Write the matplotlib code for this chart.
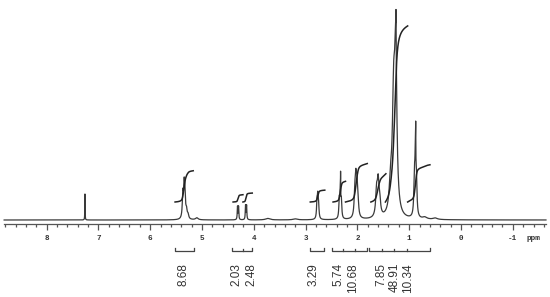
import numpy as np
import matplotlib
matplotlib.use("Agg")
import matplotlib.pyplot as plt

# peak list: shift (ppm), height, half width (ppm)
peak_shifts = [7.26,
               5.37, 5.345, 5.33, 5.30, 5.27, 5.10,
               4.315, 4.295, 4.16, 4.14,
               3.73, 3.20,
               2.78, 2.765, 2.75,
               2.35, 2.33, 2.31, 2.325,
               2.05, 2.03, 2.01, 1.99,
               1.63, 1.60, 1.57,
               1.36, 1.30, 1.26, 1.255,
               0.90, 0.88, 0.86, 0.875,
               0.70, 0.50]
peak_heights = [26,
                24, 30, 19, 8, 4, 2,
                13, 13, 14, 14,
                1.5, 1,
                16, 20, 12,
                18, 26, 16, 20,
                22, 32, 26, 14,
                24, 32, 14,
                25, 110, 152, 28,
                35, 60, 30, 28,
                2, 1.5]
peak_widths = [0.003,
               0.012, 0.012, 0.012, 0.015, 0.015, 0.03,
               0.006, 0.006, 0.006, 0.006,
               0.05, 0.05,
               0.01, 0.01, 0.01,
               0.01, 0.01, 0.01, 0.002,
               0.015, 0.015, 0.015, 0.015,
               0.02, 0.02, 0.02,
               0.03, 0.03, 0.025, 0.002,
               0.012, 0.012, 0.012, 0.002,
               0.05, 0.05]

# integrals: region (ppm from, ppm to) and value
int_from = [5.52, 4.40, 4.21, 2.91, 2.47, 2.23, 1.74, 1.46, 1.03]
int_to = [5.17, 4.21, 4.03, 2.63, 2.23, 1.81, 1.45, 1.03, 0.60]
int_values = ["8.68", "2.03", "2.48", "3.29", "5.74", "10.68", "7.85", "48.91", "10.34"]
int_label_ppm = [5.35, 4.34, 4.05, 2.84, 2.37, 2.08, 1.54, 1.29, 1.02]

# brackets under the axis: (left, right, inner ticks)
bracket_left = [5.52, 4.42, 2.915, 2.49, 1.78]
bracket_right = [5.15, 4.03, 2.645, 1.815, 0.60]
bracket_inner = [[], [4.21], [], [2.28, 2.05], [1.525, 1.29, 1.04]]

tick_labels = ["8", "7", "6", "5", "4", "3", "2", "1", "0", "-1"]


def spectrum(x):
    y = np.zeros_like(x)
    for c, h, w in zip(peak_shifts, peak_heights, peak_widths):
        y += h * w**2 / ((x - c)**2 + w**2)
    return y


fig = plt.figure(figsize=(5.5, 2.97), dpi=100)
ax = fig.add_axes([0, 0, 1, 1])
ax.set_xlim(8.90, -1.718)
ax.set_ylim(-77, 220)

x = np.linspace(8.82, -1.64, 30000)
y = spectrum(x)
ax.plot(x, y, color="#3a3a3a", lw=0.9)

# integral curves
for a, b, v in zip(int_from, int_to, int_values):
    xs = np.linspace(a, b, 600)
    ys = spectrum(xs)
    cum = np.concatenate([[0], np.cumsum((ys[1:] + ys[:-1]) / 2)])
    cum = cum / cum[-1] * float(v) * 3.6 + 18
    ax.plot(xs, cum, color="#222222", lw=1.1)

# brackets and values
for l, r, inner in zip(bracket_left, bracket_right, bracket_inner):
    ax.plot([l, l, r, r], [-28, -31, -31, -28], color="#444444", lw=0.9)
    for t in inner:
        ax.plot([t, t], [-31, -29], color="#444444", lw=0.9)
for p, v in zip(int_label_ppm, int_values):
    ax.text(p, -43, v, rotation=90, ha="center", va="top",
            fontsize=8.5, family="Liberation Sans", color="#333333")

# ppm axis
for s in ["top", "left", "right"]:
    ax.spines[s].set_visible(False)
ax.spines["bottom"].set_position(("data", -3.5))
ax.spines["bottom"].set_bounds(8.82, -1.64)
ax.spines["bottom"].set_color("#555555")
ax.spines["bottom"].set_linewidth(0.9)
ax.set_yticks([])
ax.set_xticks([float(t) for t in tick_labels])
ax.set_xticklabels(tick_labels, family="Liberation Mono", fontsize=5.5,
                   fontweight="bold", color="#333333")
ax.set_xticks(np.arange(8.8, -1.65, -0.2), minor=True)
ax.tick_params(axis="x", which="major", length=4.5, width=0.9, color="#555555", pad=4)
ax.tick_params(axis="x", which="minor", length=2.3, width=0.9, color="#555555")
ax.text(-1.40, -19, "ppm", family="Liberation Mono", fontsize=5.5,
        fontweight="bold", color="#333333", ha="center", va="center")

fig.savefig("out.png", dpi=100)
